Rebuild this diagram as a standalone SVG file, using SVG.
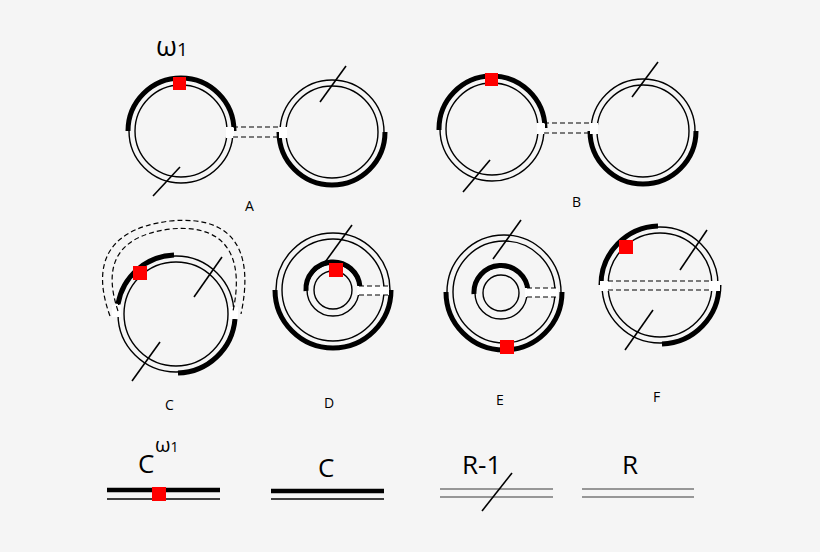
<svg xmlns="http://www.w3.org/2000/svg" width="820" height="552" viewBox="0 0 820 552">
<style>
.t{fill:none;stroke:#000;stroke-width:1.4}
.k{fill:none;stroke:#000;stroke-width:5}
.d{fill:none;stroke:#000;stroke-width:1.2;stroke-dasharray:5 3}
.s{stroke:#000;stroke-width:1.6}
.g{stroke:#777;stroke-width:1.6}
.w{fill:#fff}
.r{fill:#f00}
text{font-family:"Open Sans","Liberation Sans",sans-serif;fill:#000}
.l{font-size:14px}
</style>
<rect width="820" height="552" fill="#f5f5f5"/>
<g id="A">
<circle class="t" cx="181" cy="131" r="52"/><circle class="t" cx="181" cy="131" r="46"/>
<path class="k" d="M128,131 A53,53 0 0 1 234,131"/>
<circle class="t" cx="332" cy="132" r="52"/><circle class="t" cx="332" cy="132" r="46"/>
<path class="k" d="M279,132 A53,53 0 0 0 385,132"/>
<rect class="w" x="226" y="127" width="8" height="11"/><rect class="w" x="279" y="127" width="8" height="11"/>
<path class="d" d="M233,127H281M233,137H281"/>
<rect class="r" x="173" y="77" width="13" height="13"/>
<line class="s" x1="180" y1="167" x2="153" y2="196"/><line class="s" x1="346" y1="66" x2="320" y2="102"/>
<text class="l" x="245" y="211">A</text>
<text x="156" y="56" font-size="27">ω<tspan font-size="19">1</tspan></text>
</g>
<g id="B">
<circle class="t" cx="492" cy="129" r="52"/><circle class="t" cx="492" cy="129" r="46"/>
<path class="k" d="M439,130 A53,53 0 0 1 545,128"/>
<circle class="t" cx="643" cy="131" r="52"/><circle class="t" cx="643" cy="131" r="46"/>
<path class="k" d="M590,131 A53,53 0 0 0 696,131"/>
<rect class="w" x="537" y="123" width="8" height="11"/><rect class="w" x="590" y="123" width="8" height="11"/>
<path class="d" d="M544,123H592M544,133H592"/>
<rect class="r" x="485" y="73" width="13" height="13"/>
<line class="s" x1="490" y1="160" x2="463" y2="192"/><line class="s" x1="658" y1="62" x2="632" y2="97"/>
<text class="l" x="572" y="207">B</text>
</g>
<g id="C">
<circle class="t" cx="176" cy="314" r="58"/><circle class="t" cx="176" cy="314" r="52"/>
<path class="k" d="M118,304 A59,59 0 0 1 174,255"/>
<path class="k" d="M178,373 A59,59 0 0 0 235,319"/>
<rect class="w" x="112" y="305" width="9" height="12"/><rect class="w" x="229" y="307" width="9" height="12"/>
<path class="d" d="M110,316 C95,275 97,230 170,221 C243,214 252,262 241,314"/>
<path class="d" d="M118,311 C105,272 110,237 170,229 C233,223 243,265 233,311"/>
<rect class="r" x="133" y="266" width="14" height="14"/>
<line class="s" x1="222" y1="257" x2="194" y2="297"/><line class="s" x1="160" y1="342" x2="132" y2="381"/>
<text class="l" x="165" y="410">C</text>
</g>
<g id="D">
<circle class="t" cx="333" cy="290" r="57"/><circle class="t" cx="333" cy="290" r="51"/>
<path class="k" d="M275,290 A58,58 0 0 0 391,290"/>
<circle class="t" cx="333" cy="290" r="26"/><circle class="t" cx="333" cy="290" r="19"/>
<path class="k" d="M306,291 A27,27 0 0 1 360,287"/>
<rect class="w" x="357" y="286" width="32" height="9"/>
<path class="d" d="M359,286H389M359,295H389"/>
<rect class="r" x="329" y="263" width="14" height="14"/>
<line class="s" x1="352" y1="225" x2="323" y2="265"/>
<text class="l" x="324" y="408">D</text>
</g>
<g id="E">
<circle class="t" cx="504" cy="292" r="57"/><circle class="t" cx="504" cy="292" r="51"/>
<path class="k" d="M446,292 A58,58 0 0 0 562,292"/>
<circle class="t" cx="501" cy="293" r="26"/><circle class="t" cx="501" cy="293" r="18"/>
<path class="k" d="M474,294 A27,27 0 0 1 528,291"/>
<rect class="w" x="525" y="288" width="33" height="9"/>
<path class="d" d="M527,288H557M527,297H557"/>
<rect class="r" x="500" y="340" width="14" height="14"/>
<line class="s" x1="521" y1="220" x2="493" y2="259"/>
<text class="l" x="496" y="405">E</text>
</g>
<g id="F">
<circle class="t" cx="660" cy="285" r="58"/><circle class="t" cx="660" cy="285" r="52"/>
<path class="k" d="M601,285 A59,59 0 0 1 658,226"/>
<path class="k" d="M662,344 A59,59 0 0 0 719,285"/>
<rect class="w" x="600" y="281" width="11" height="10"/><rect class="w" x="709" y="281" width="11" height="10"/>
<path class="d" d="M608,281H712M608,290H712"/>
<rect class="r" x="619" y="240" width="14" height="14"/>
<line class="s" x1="707" y1="230" x2="680" y2="270"/><line class="s" x1="653" y1="310" x2="625" y2="350"/>
<text class="l" x="653" y="402">F</text>
</g>
<g id="legend">
<text x="138" y="473" font-size="26">C</text>
<text x="155" y="452" font-size="20">ω<tspan font-size="14">1</tspan></text>
<line x1="107" y1="490" x2="220" y2="490" stroke="#000" stroke-width="4.5"/>
<line x1="107" y1="499" x2="220" y2="499" stroke="#000" stroke-width="1.4"/>
<rect class="r" x="152" y="487" width="14" height="14"/>
<text x="318" y="477" font-size="26">C</text>
<line x1="271" y1="491" x2="384" y2="491" stroke="#000" stroke-width="4.5"/>
<line x1="271" y1="499" x2="384" y2="499" stroke="#000" stroke-width="1.4"/>
<text x="462" y="474" font-size="26">R-1</text>
<line class="g" x1="440" y1="489" x2="553" y2="489"/><line class="g" x1="440" y1="497" x2="553" y2="497"/>
<line class="s" x1="512" y1="473" x2="482" y2="511"/>
<text x="622" y="474" font-size="26">R</text>
<line class="g" x1="582" y1="489" x2="694" y2="489"/><line class="g" x1="582" y1="497" x2="694" y2="497"/>
</g>
</svg>
